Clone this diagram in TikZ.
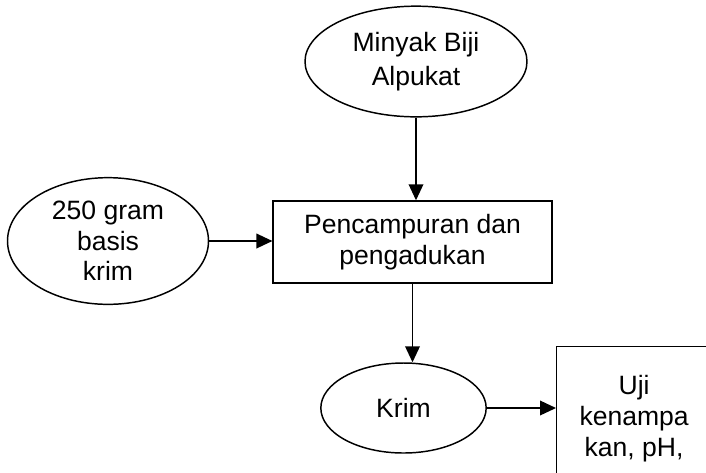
\documentclass[tikz,border=0pt]{standalone}
\usepackage{fontspec}
\setmainfont{Liberation Sans}
\usetikzlibrary{shapes.geometric,arrows.meta}

\tikzset{
    oval/.style={draw, ellipse, line width=1.1pt, inner sep=0pt, align=center},
    box/.style={draw, rectangle, line width=1.1pt, inner sep=0pt, align=center},
    flow/.style={line width=1.1pt, -{Triangle[length=12pt,width=11pt]}}
}

\begin{document}
\begin{tikzpicture}[x=0.75pt, y=-0.75pt, font=\fontsize{19.9}{23}\selectfont]
    % page frame, anything beyond it is cut off
    \clip (0,0) rectangle (706,472);

    % inputs
    \node[oval, minimum width=166.5pt, minimum height=83pt] (minyak) at (416, 61.5)
        {Minyak Biji\\[2pt]Alpukat};
    \node[oval, minimum width=150.75pt, minimum height=95pt] (basis) at (108, 241)
        {250 gram\\basis\\krim};

    % process
    \node[box, minimum width=209pt, minimum height=61.5pt] (campur) at (412.5, 242)
        {Pencampuran dan\\pengadukan};

    % product and test
    \node[oval, minimum width=124pt, minimum height=67.5pt] (krim) at (403.5, 408) {Krim};
    \node[box, anchor=north west, minimum width=116pt, minimum height=108pt] (uji) at (556, 346)
        {Uji\\kenampa\\kan, pH,};

    \draw[flow] (minyak.south) -- (minyak.south |- campur.north);
    \draw[flow] (basis.east) -- (basis.east -| campur.west);
    \draw[flow] (campur.south) -- (campur.south |- krim.north);
    \draw[flow] (krim.east) -- (krim.east -| uji.west);
\end{tikzpicture}
\end{document}
